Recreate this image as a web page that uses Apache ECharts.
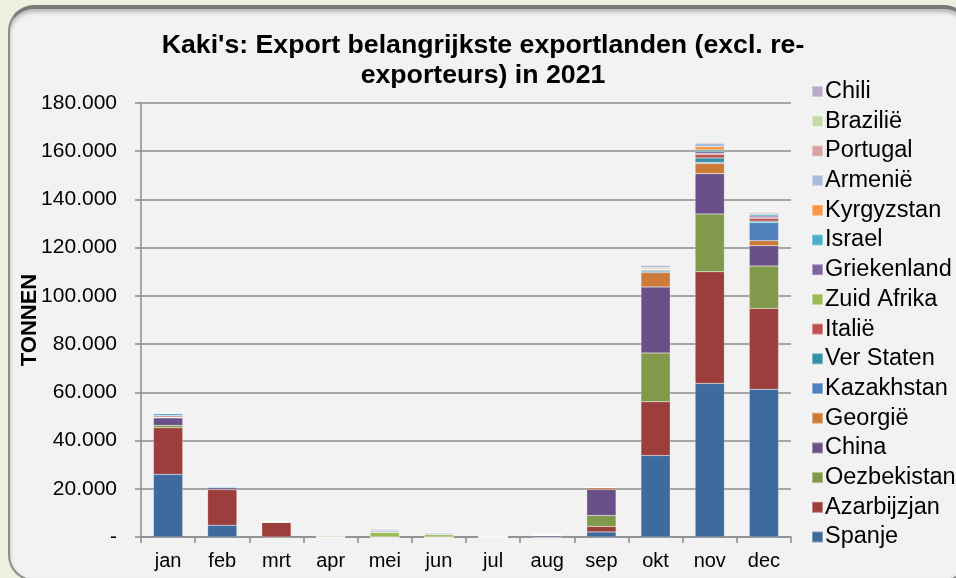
<!DOCTYPE html>
<html>
<head>
<meta charset="utf-8">
<script src="https://cdn.jsdelivr.net/npm/echarts@6/dist/echarts.min.js"></script>
<style>
  html, body { margin: 0; padding: 0; background: #ebf1de; }
  #wrap { position: relative; width: 956px; height: 578px; overflow: hidden; }
  #panel {
    position: absolute; left: 8px; top: 5px; width: 958px; height: 570px;
    background: #f2f2f2; border: 2px solid #8c8c8c; border-top: 4px solid #7a7a7a;
    border-radius: 26px; box-shadow: inset 0 3px 4px rgba(0,0,0,0.25);
  }
  #chart { position: absolute; left: 0; top: 0; width: 956px; height: 578px; }
</style>
</head>
<body>
<div id="wrap">
  <div id="panel"></div>
  <div id="chart"></div>
</div>
<script>
// maanden
const months = ['jan', 'feb', 'mrt', 'apr', 'mei', 'jun', 'jul', 'aug', 'sep', 'okt', 'nov', 'dec']

// export in tonnen per land
const spanje      = [26000, 4900, 0, 0, 0, 0, 0, 0, 2100, 33800, 63700, 61300]
const azarbijzjan = [19300, 14800, 6200, 0, 0, 0, 0, 0, 2300, 22300, 46300, 33500]
const oezbekistan = [1000, 0, 0, 0, 0, 0, 0, 0, 4500, 20200, 24000, 17600]
const china       = [3100, 800, 0, 0, 0, 0, 0, 700, 10800, 27400, 16700, 8400]
const georgie     = [200, 0, 0, 0, 0, 0, 0, 0, 800, 5900, 4200, 2100]
const kazakhstan  = [200, 0, 0, 0, 0, 0, 0, 0, 0, 400, 500, 7500]
const verStaten   = [0, 0, 0, 0, 0, 0, 0, 0, 0, 600, 1800, 600]
const italie      = [600, 0, 100, 0, 0, 0, 0, 0, 0, 300, 1500, 1200]
const zuidAfrika  = [0, 0, 0, 0, 2000, 1000, 0, 0, 0, 0, 300, 200]
const griekenland = [0, 0, 0, 0, 0, 0, 0, 0, 0, 200, 800, 700]
const israel      = [800, 500, 0, 0, 0, 0, 0, 0, 0, 300, 700, 700]
const kyrgyzstan  = [0, 0, 0, 0, 0, 0, 0, 0, 0, 400, 1400, 300]
const armenie     = [200, 300, 0, 0, 600, 700, 0, 200, 0, 900, 1300, 500]
const portugal    = [200, 0, 0, 0, 0, 0, 0, 0, 0, 300, 500, 300]
const brazilie    = [0, 0, 0, 500, 0, 0, 300, 0, 0, 0, 100, 100]
const chili       = [0, 0, 0, 0, 500, 0, 0, 0, 0, 200, 0, 0]

const yTicks = [0, 20000, 40000, 60000, 80000, 100000, 120000, 140000, 160000, 180000]

const countries = [
  ['Spanje', spanje, '#3f6a9e'],
  ['Azarbijzjan', azarbijzjan, '#9c3f3c'],
  ['Oezbekistan', oezbekistan, '#80994a'],
  ['China', china, '#6a5088'],
  ['Georgië', georgie, '#cc7b38'],
  ['Kazakhstan', kazakhstan, '#4f81bd'],
  ['Ver Staten', verStaten, '#358fa8'],
  ['Italië', italie, '#c0504d'],
  ['Zuid Afrika', zuidAfrika, '#9bbb59'],
  ['Griekenland', griekenland, '#8064a2'],
  ['Israel', israel, '#4bacc6'],
  ['Kyrgyzstan', kyrgyzstan, '#f79646'],
  ['Armenië', armenie, '#a9bcdc'],
  ['Portugal', portugal, '#d9a3a2'],
  ['Brazilië', brazilie, '#c4d9a8'],
  ['Chili', chili, '#b9aacb'],
]

const font = 'Liberation Sans, Arial, sans-serif'

const series = countries.map(([name, data, color]) => ({
  name,
  type: 'bar',
  stack: 'totaal',
  data,
  barCategoryGap: '46%',
  itemStyle: { color, borderColor: 'rgba(255,255,255,0.35)', borderWidth: 0.5 },
}))

const option = {
  animation: false,
  textStyle: { fontFamily: font },
  title: {
    text: "Kaki's: Export belangrijkste exportlanden (excl. re-\nexporteurs) in 2021",
    left: 478,
    textAlign: 'center',
    top: 26,
    textStyle: { fontFamily: font, fontSize: 26.7, fontWeight: 'bold', color: '#000', lineHeight: 30 },
  },
  grid: {
    left: 141, // plotgebied links
    right: 165,
    top: 103,
    bottom: 41,
  },
  legend: {
    orient: 'vertical',
    left: 806,
    top: 74.5,
    icon: 'rect',
    itemWidth: 11,
    itemHeight: 11,
    itemGap: 5.7,
    data: countries.map(c => c[0]).reverse(),
    textStyle: { fontFamily: font, fontSize: 23.5, color: '#000', padding: [0, 0, 0, -3] },
  },
  xAxis: {
    type: 'category',
    data: months,
    axisLine: { lineStyle: { color: '#8c8c8c', width: 1.5 } },
    axisTick: { show: true, length: 6, lineStyle: { color: '#8c8c8c', width: 1.5 } },
    axisLabel: { fontFamily: font, fontSize: 20, color: '#000', margin: 14 },
  },
  yAxis: {
    type: 'value',
    name: 'TONNEN',
    nameLocation: 'middle',
    nameGap: 100,
    nameMoveOverlap: false,
    nameTextStyle: { fontFamily: font, fontSize: 22, fontWeight: 'bold', color: '#000' },
    min: yTicks[0],
    max: yTicks[yTicks.length - 1],
    interval: 20000,
    axisLine: { show: true, lineStyle: { color: '#8c8c8c', width: 1.5 } },
    axisTick: { show: true, length: 6, lineStyle: { color: '#8c8c8c', width: 1.5 } },
    splitLine: { lineStyle: { color: '#8c8c8c', width: 1.5 } },
    axisLabel: {
      fontFamily: font,
      fontSize: 21,
      color: '#000',
      margin: 24,
      formatter: v => (v === 0 ? '-' : v.toLocaleString('de-DE')),
    },
  },
  series,
}

const chart = echarts.init(document.getElementById('chart'))
chart.setOption(option)
</script>
</body>
</html>
